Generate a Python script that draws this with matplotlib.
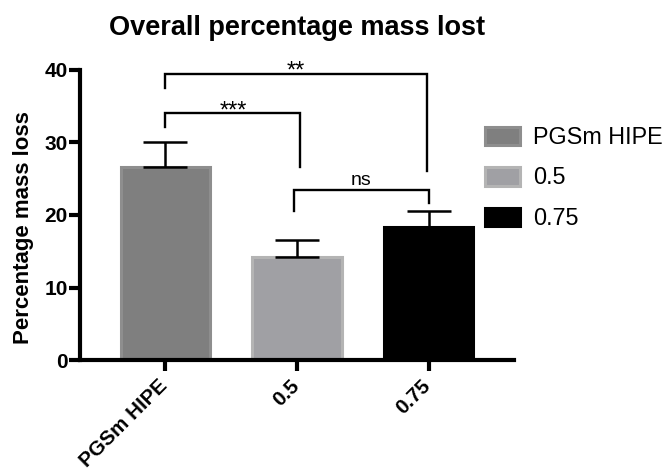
import numpy as np
import matplotlib.pyplot as plt
from matplotlib.patches import Patch
from matplotlib.transforms import ScaledTranslation

plt.rcParams['font.family'] = ['Liberation Sans', 'DejaVu Sans']

# data
groups = ['PGSm HIPE', '0.5', '0.75']
means = [26.6, 14.2, 18.4]
sems = [3.4, 2.3, 2.2]

# significance brackets: (left group, right group), bar height, leg ends, label
pairs = [(0, 1), (0, 2), (1, 2)]
bracket_tops = [34.0, 39.4, 23.5]
left_ends = [32.1, 37.5, 20.6]
right_ends = [26.6, 26.1, 21.7]
sig_labels = ['***', '**', 'ns']

fills = ['#7f7f7f', '#a0a0a4', '#000000']
edges = ['#8e8e8e', '#b4b4b4', '#000000']

fig = plt.figure(figsize=(6.69, 4.72), dpi=100)
ax = fig.add_axes([80 / 669, 1 - 360 / 472, 434 / 669, 290 / 472])

x = np.arange(len(groups))
bars = ax.bar(x, means, width=0.68, color=fills, edgecolor=edges, linewidth=2.2, zorder=2)
ax.errorbar(x, means, yerr=[np.zeros(len(sems)), sems], fmt='none', ecolor='black',
            elinewidth=1.8, capsize=16, capthick=1.8, zorder=3)

# brackets
shift = {(0, 1): (0, 0.025), (0, 2): (0, -0.015), (1, 2): (-0.025, 0)}
for (i, j), top, lo_l, lo_r, lab in zip(pairs, bracket_tops, left_ends, right_ends, sig_labels):
    xl = i + shift[(i, j)][0]
    xr = j + shift[(i, j)][1]
    ax.plot([xl, xl, xr, xr], [lo_l, top, top, lo_r], color='black', lw=1.7,
            solid_joinstyle='miter', clip_on=False, zorder=4)
    if lab.startswith('*'):
        ax.text((xl + xr) / 2, top - 0.5, lab, ha='center', va='baseline', fontsize=17)
    else:
        ax.text((xl + xr) / 2, top + 0.65, lab, ha='center', va='baseline', fontsize=14)

ax.set_xlim(-0.65, 2.65)
ax.set_ylim(0, 40)
ax.set_yticks([0, 10, 20, 30, 40])
ax.set_xticks(x)
ax.set_xticklabels(groups, rotation=45, ha='right', va='baseline', rotation_mode='anchor',
                   fontweight='bold', fontsize=14.8)
for lab in ax.get_yticklabels():
    lab.set_fontweight('bold')
    lab.set_fontsize(15)

for s in ['top', 'right']:
    ax.spines[s].set_visible(False)
for s in ['left', 'bottom']:
    ax.spines[s].set_linewidth(3)
ax.tick_params(axis='both', width=3, length=8, pad=1)
ax.tick_params(axis='x', pad=11.5)
nudge = ScaledTranslation(0.03, 0, fig.dpi_scale_trans)
for lab in ax.get_xticklabels():
    lab.set_transform(lab.get_transform() + nudge)

ax.set_ylabel('Percentage mass loss', fontsize=16, fontweight='bold')
ax.yaxis.set_label_coords(-0.106, 0.455)
ax.set_title('Overall percentage mass lost', fontsize=19.5, fontweight='bold', pad=25)

handles = [Patch(facecolor=f, edgecolor=e, linewidth=2.2) for f, e in zip(fills, edges)]
fig.legend(handles, groups, loc='center left', bbox_to_anchor=(485 / 669, 1 - 178 / 472),
           frameon=False, fontsize=16.8, handlelength=1.5, handleheight=0.85,
           handletextpad=0.55, labelspacing=0.75, borderpad=0, borderaxespad=0)

plt.savefig('out.png', dpi=100)
